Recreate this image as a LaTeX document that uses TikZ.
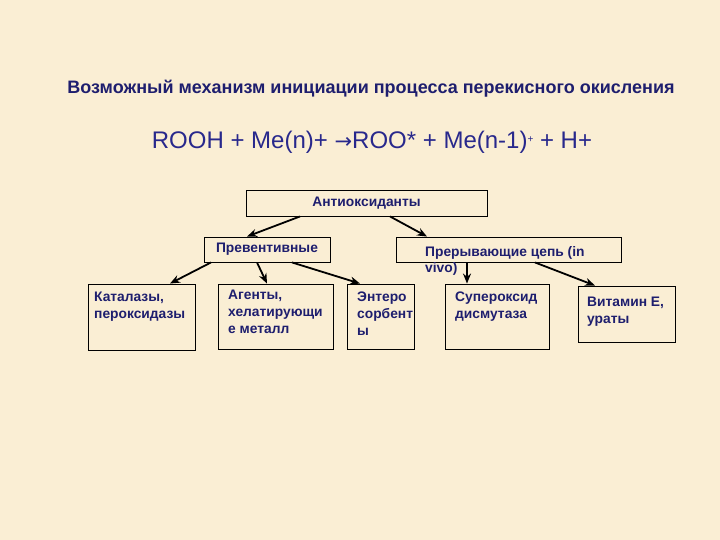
\documentclass[tikz,border=0pt]{standalone}
\usepackage{fontspec}
\setmainfont{Liberation Sans}
\newfontfamily\djv{DejaVu Sans}
\usetikzlibrary{calc,arrows.meta}
\definecolor{bg}{RGB}{250,238,212}
\definecolor{navy}{RGB}{30,30,110}
\definecolor{eqc}{RGB}{40,40,140}
\tikzset{
  box/.style={draw=black,line width=0.9pt,inner sep=0pt},
  txt/.style={anchor=north west,align=left,inner sep=0pt,text=navy,font=\fontsize{13.8}{17}\selectfont\bfseries},
  arr/.style={-{Stealth[length=10pt,width=8pt]},line width=1.8pt,black}
}
\begin{document}
\begin{tikzpicture}[x=1pt,y=-1pt]
\fill[bg] (0,0) rectangle (720,540);
\useasboundingbox (0,0) rectangle (720,540);
\node[text=navy,font=\fontsize{18}{21}\selectfont\bfseries] (title) at (371,89) {Возможный механизм инициации процесса перекисного окисления};
\node[text=eqc,font=\fontsize{24}{28}\selectfont] (eq) at (372,142) {ROOH + Me(n)+ {\djv\fontsize{21}{24}\selectfont →}ROO* + Me(n-1)\raisebox{6pt}{\fontsize{10}{10}\selectfont +} + H+};
\node[box,minimum width=241,minimum height=26] (ant) at (366.5,203) {};
\node[txt,anchor=center] (antt) at (366.5,203) {Антиоксиданты};
\node[box,minimum width=126,minimum height=25] (prev) at (267,249.5) {};
\node[txt,anchor=center] (prevt) at (267,249.5) {Превентивные};
\node[box,minimum width=225,minimum height=25] (prer) at (508.5,249.5) {};
\node[txt,font=\fontsize{13.8}{16}\selectfont\bfseries] (prert) at (425,246) {Прерывающие цепь (in\\vivo)};
\node[box,minimum width=107,minimum height=66] (kat) at (141.5,317) {};
\node[txt] (katt) at (94,292) {Каталазы,\\пероксидазы};
\node[box,minimum width=115,minimum height=65] (agt) at (275.5,316.5) {};
\node[txt] (agtt) at (228,290) {Агенты,\\хелатирующи\\е металл};
\node[box,minimum width=67,minimum height=65] (ent) at (380.5,316.5) {};
\node[txt] (entt) at (357,292) {Энтеро\\сорбент\\ы};
\node[box,minimum width=104,minimum height=65] (sup) at (497,316.5) {};
\node[txt] (supt) at (455,292) {Супероксид\\дисмутаза};
\node[box,minimum width=97,minimum height=56] (vit) at (626.5,314) {};
\node[txt] (vitt) at (587,297) {Витамин Е,\\ураты};
\draw[arr] ($(ant.south)+(-66.5,0)$) -- ($(prev.north)+(-20,0)$);
\draw[arr] ($(ant.south)+(23.5,0)$) -- ($(prer.north)+(-81.5,0)$);
\draw[arr] ($(prev.south)+(-56,0)$) -- ($(kat.north)+(28.5,0)$);
\draw[arr] ($(prev.south)+(-10,0)$) -- ($(agt.north)+(-8.5,0)$);
\draw[arr] ($(prev.south)+(25,0)$) -- ($(ent.north)+(-20.5,0)$);
\draw[arr] ($(prer.south)+(-41.5,0)$) -- ($(sup.north)+(-30,0)$);
\draw[arr] ($(prer.south)+(26.5,0)$) -- ($(vit.north)+(-31.5,0)$);
\end{tikzpicture}
\end{document}
